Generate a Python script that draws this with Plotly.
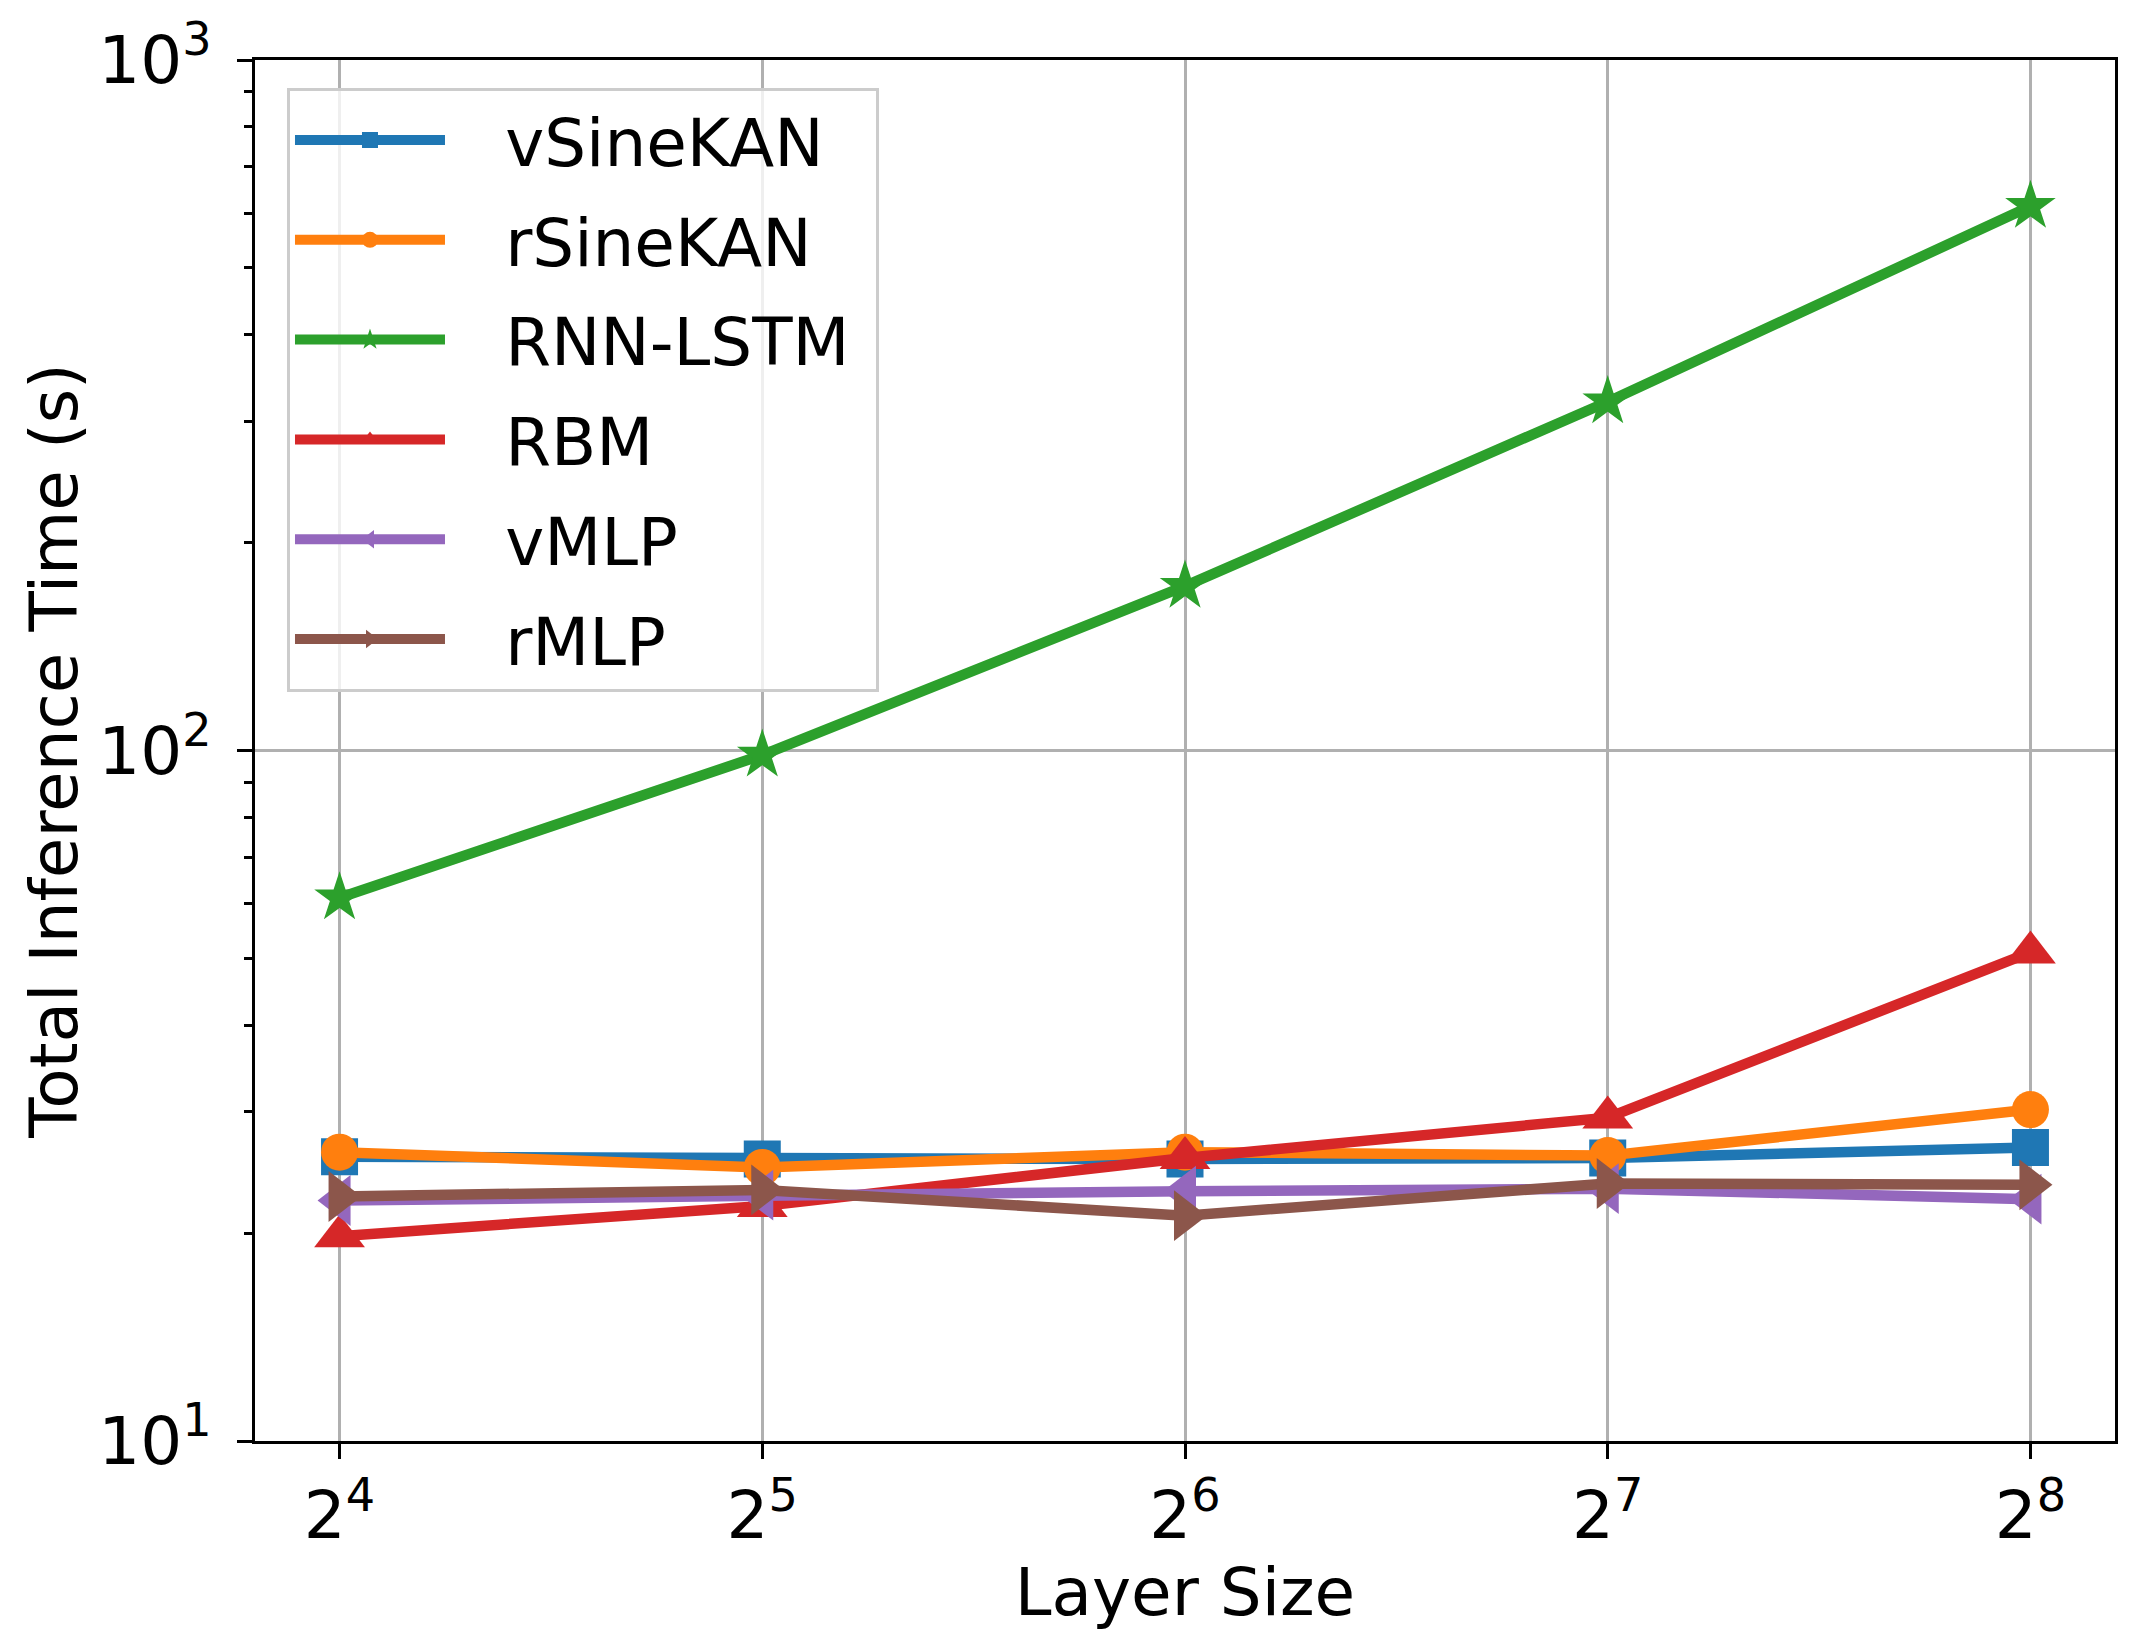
import plotly.graph_objects as go
import numpy as np

layer_sizes = [16, 32, 64, 128, 256]
x_tick_labels = ["2<sup>4</sup>", "2<sup>5</sup>", "2<sup>6</sup>", "2<sup>7</sup>", "2<sup>8</sup>"]
y_tick_vals = [10, 100, 1000]
y_tick_labels = ["10<sup>1</sup>", "10<sup>2</sup>", "10<sup>3</sup>"]

vsinekan = [25.8, 25.6, 25.6, 25.7, 26.6]
rsinekan = [26.2, 24.9, 26.2, 25.9, 30.2]
rnn_lstm = [61.2, 98.5, 173.0, 320.0, 614.0]
rbm = [19.8, 21.9, 25.7, 29.4, 51.0]
vmlp = [22.3, 22.7, 23.0, 23.2, 22.4]
rmlp = [22.6, 23.1, 21.2, 23.6, 23.5]

series = [
    ("vSineKAN", vsinekan, "#1f77b4", "square", 37),
    ("rSineKAN", rsinekan, "#ff7f0e", "circle", 37),
    ("RNN-LSTM", rnn_lstm, "#2ca02c", "star", 38),
    ("RBM", rbm, "#d62728", "triangle-up", 44),
    ("vMLP", vmlp, "#9467bd", "triangle-left", 44),
    ("rMLP", rmlp, "#8c564b", "triangle-right", 44),
]

FONT = "DejaVu Sans"
FS = 66
PAD = "\u00a0\u00a0\u2009"

fig = go.Figure()
for name, vals, color, sym, ms in series:
    fig.add_trace(go.Scatter(
        x=layer_sizes, y=vals, name=PAD + name + "\u00a0", mode="lines+markers",
        line=dict(color=color, width=10.5),
        marker=dict(symbol=sym, size=ms, color=color, line=dict(width=0)),
        legendgroup=name,
    ))

minor_y = [m * 10 ** e for e in (1, 2) for m in range(2, 10)]

fig.update_layout(
    width=2145, height=1649,
    margin=dict(l=255, r=30, t=55, b=208),
    paper_bgcolor="white", plot_bgcolor="white",
    font=dict(family=FONT, size=FS, color="black"),
    showlegend=True,
    legend=dict(
        x=0.0172, y=0.98, xanchor="left", yanchor="top",
        bgcolor="rgba(255,255,255,0.8)", bordercolor="#cccccc", borderwidth=3,
        font=dict(family=FONT, size=FS, color="black"),
        itemwidth=150, tracegroupgap=11, itemsizing="trace",
    ),
    xaxis=dict(
        type="log",
        range=[np.log10(2 ** 3.8), np.log10(2 ** 8.2)],
        tickmode="array", tickvals=layer_sizes, ticktext=x_tick_labels,
        showgrid=True, gridcolor="#b0b0b0", gridwidth=3.3,
        showline=True, linecolor="black", linewidth=3.3, mirror=True,
        ticks="outside", ticklen=15, tickwidth=3.3, tickcolor="black",
        ticklabelstandoff=0,
        tickfont=dict(family=FONT, size=FS, color="black"),
        title=dict(text="Layer Size", font=dict(family=FONT, size=FS, color="black"), standoff=12),
        zeroline=False,
    ),
    yaxis=dict(
        type="log",
        range=[1, 3],
        tickmode="array", tickvals=y_tick_vals, ticktext=y_tick_labels,
        showgrid=True, gridcolor="#b0b0b0", gridwidth=3.3,
        showline=True, linecolor="black", linewidth=3.3, mirror=True,
        ticks="outside", ticklen=15, tickwidth=3.3, tickcolor="black",
        ticklabelstandoff=12,
        tickfont=dict(family=FONT, size=FS, color="black"),
        minor=dict(tickmode="array", tickvals=minor_y, ticks="outside",
                   ticklen=8, tickwidth=2.6, tickcolor="black", showgrid=False),
        title=dict(text="Total Inference Time (s)", font=dict(family=FONT, size=FS, color="black"), standoff=0),
        zeroline=False,
    ),
)

fig.write_html("out.html", config={"displayModeBar": False},
               post_script="document.body.style.margin='0';")
